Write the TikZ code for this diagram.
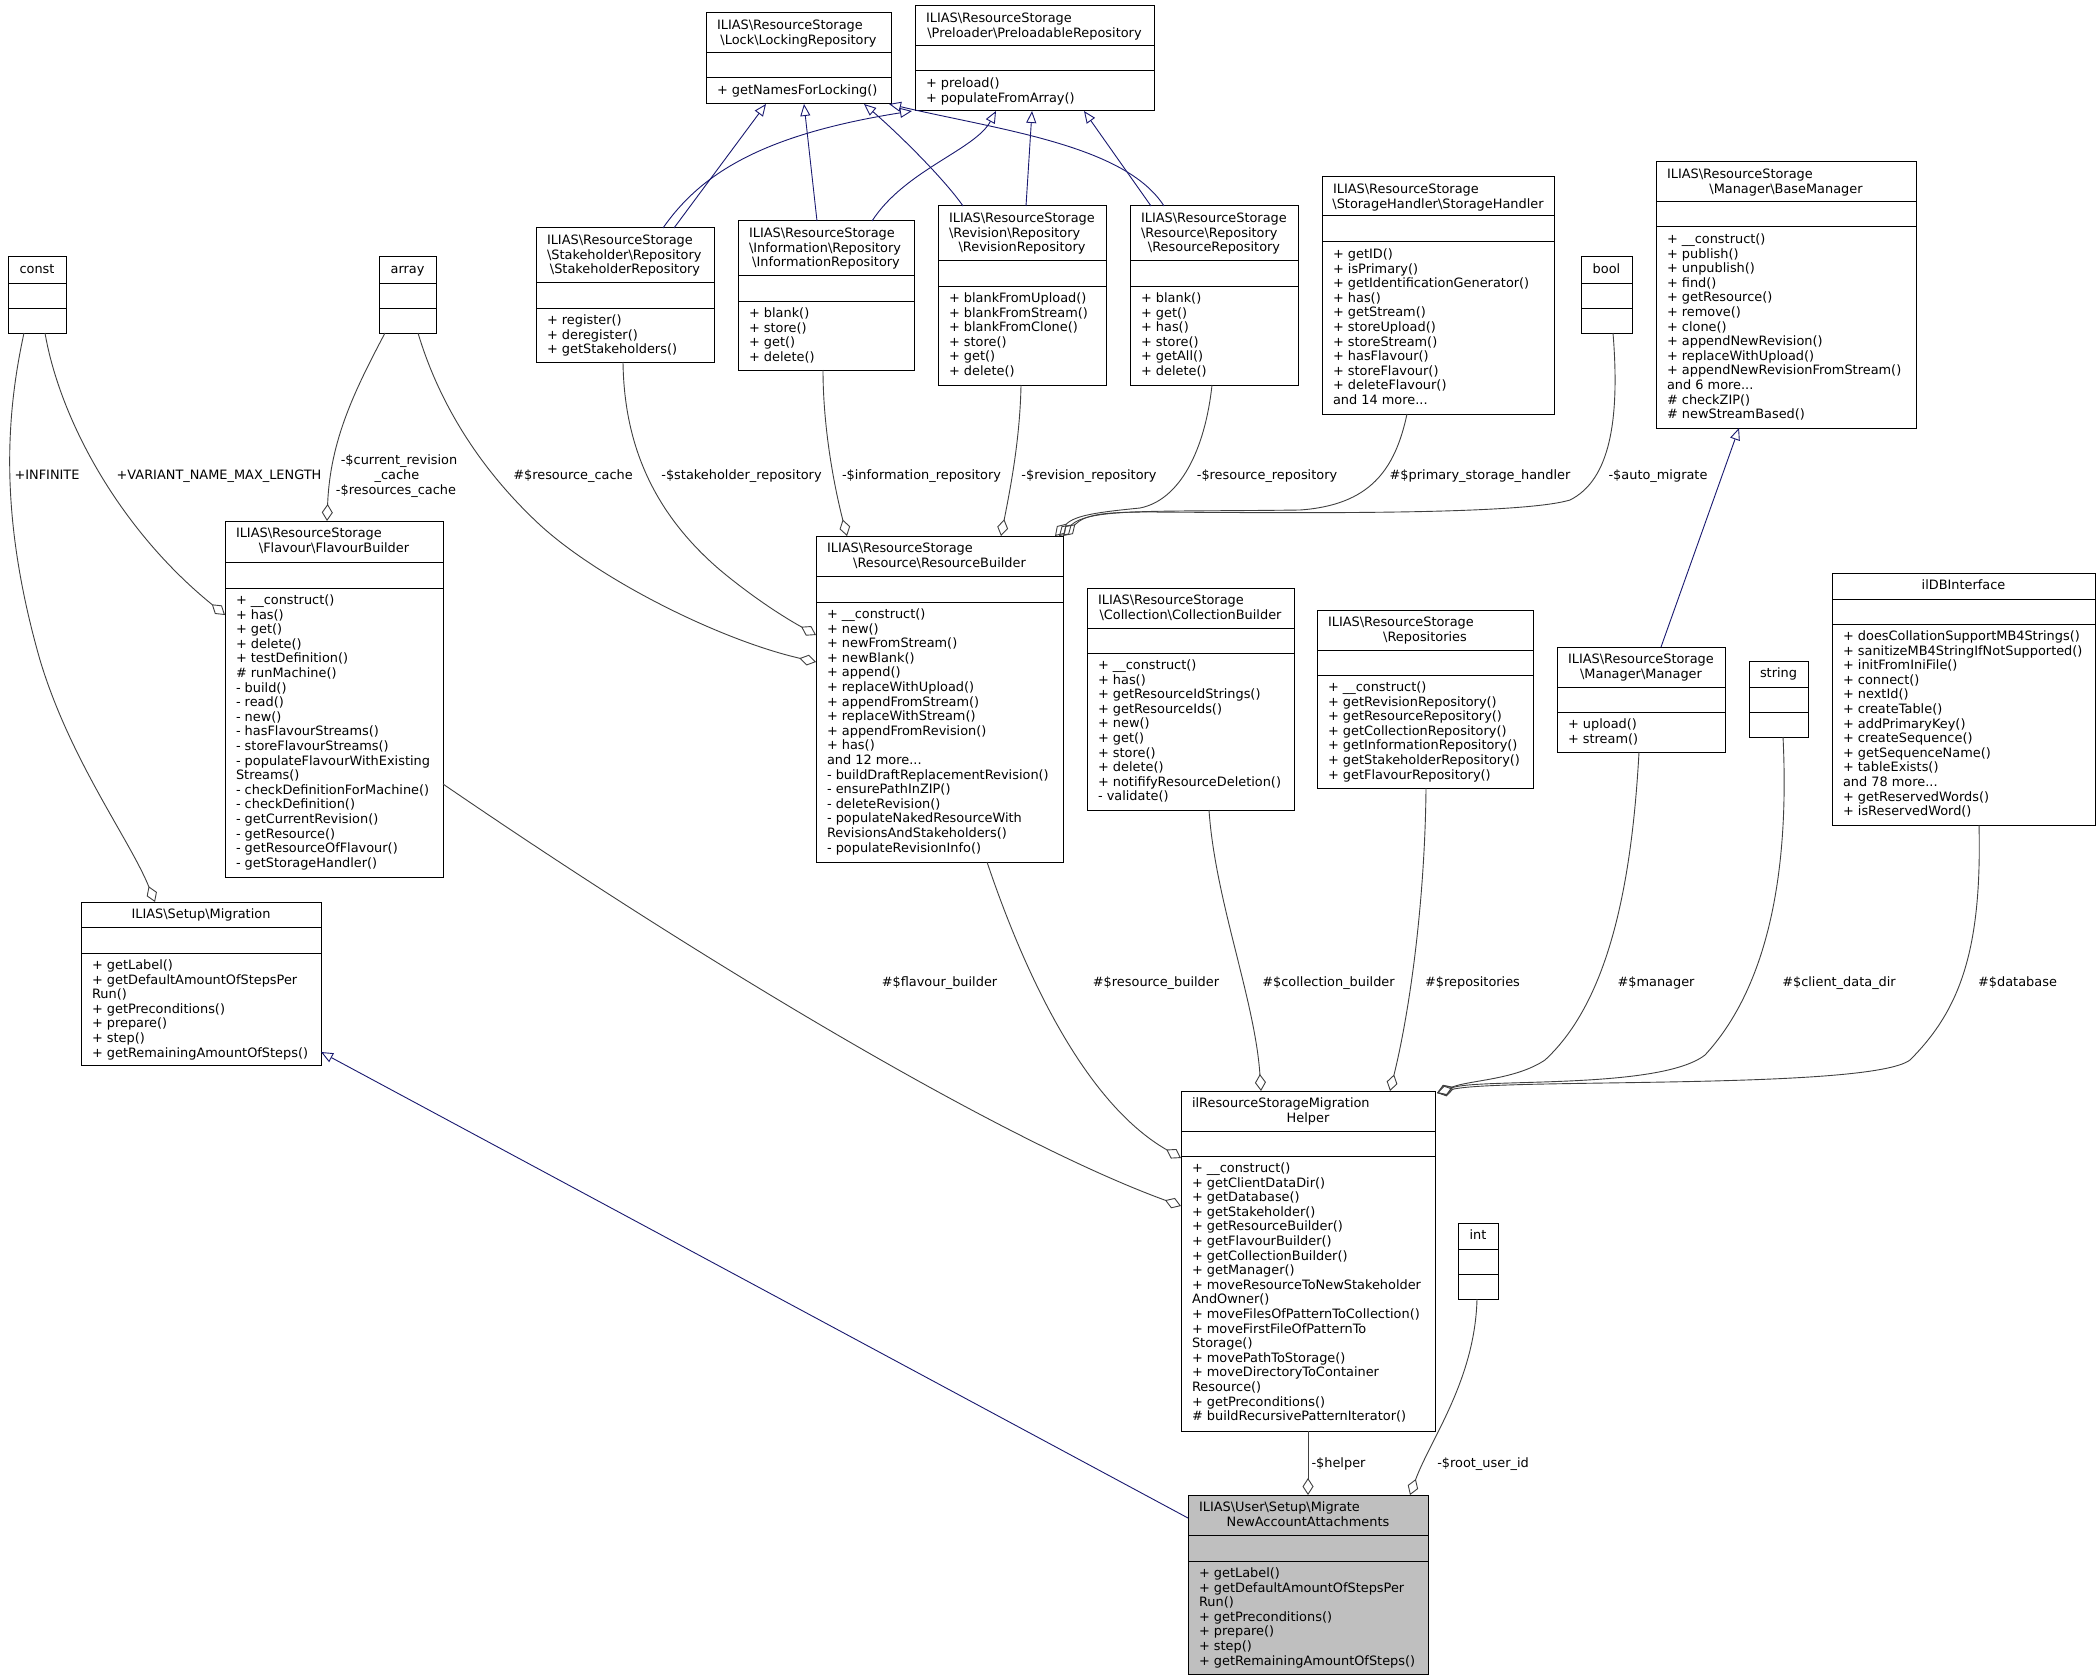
\documentclass[tikz,border=0pt]{standalone}
\usepackage{fontspec}
\newfontfamily\umlfam{DejaVu Sans}
\usetikzlibrary{arrows.meta,calc}
\definecolor{edgegray}{HTML}{404040}
\definecolor{inhblue}{HTML}{191970}
\definecolor{targetgray}{HTML}{BFBFBF}
\newcommand{\umlfont}{\umlfam\fontsize{12.9}{14.6}\selectfont}
\newcommand{\Bsl}{\textbackslash}
\tikzset{
  boxframe/.style={draw=black, line width=1pt, inner sep=0pt, outer sep=0pt, fill=white},
  divline/.style={draw=black, line width=1pt},
  txt/.style={inner sep=0pt, outer sep=0pt, font=\umlfont},
  elabel/.style={inner sep=0pt, outer sep=0pt, font=\umlfont, anchor=base},
  agg/.style={draw=edgegray, line width=0.9pt, -{Diamond[open, length=17pt, width=11pt]}},
  inh/.style={draw=inhblue, line width=0.9pt, -{Triangle[open, length=12pt, width=10pt]}},
}
% #1 options, #2 name, #3 x1, #4 y1, #5 x2, #6 y2, #7 divider 1, #8 divider 2
\newcommand{\umlbox}[8][]{%
  \node[boxframe,#1,anchor=north west,minimum width={(#5-#3)*1pt},minimum height={(#6-#4)*1pt}] (#2) at (#3,#4) {};
  \draw[divline] (#3,#7) -- (#5,#7);
  \draw[divline] (#3,#8) -- (#5,#8);
}
\newcommand{\hl}[4]{\node[txt,anchor=base west] (#1) at (#2,#3) {#4};}
\newcommand{\hc}[4]{\node[txt,anchor=base] (#1) at (#2,#3) {#4};}
\newcommand{\mlines}[4]{%
  \foreach \mtxt [count=\mi] in {#4} {\node[txt,anchor=base west] (#1-\mi) at (#2,{#3+(\mi-1)*14.6}) {\mtxt};}
}
\begin{document}
\begin{tikzpicture}[x={(1pt,0)}, y={(0,-1pt)}]
\path[fill=white, use as bounding box] (0,0) rectangle (2100,1680);

% ---------- boxes ----------
\umlbox{lock}{706}{13}{891}{104}{53}{78}
\hl{lock-h1}{717}{29.5}{ILIAS\Bsl ResourceStorage}
\hc{lock-h2}{798.5}{44.1}{\Bsl Lock\Bsl LockingRepository}
\mlines{lock-m}{717}{94.5}{+ getNamesForLocking()}

\umlbox{preload}{915}{6}{1154}{111}{46}{71}
\hl{preload-h1}{926}{22.5}{ILIAS\Bsl ResourceStorage}
\hc{preload-h2}{1034.5}{37.1}{\Bsl Preloader\Bsl PreloadableRepository}
\mlines{preload-m}{926}{87.5}{+ preload(),+ populateFromArray()}

\umlbox{stake}{536}{228}{714}{362}{282}{308}
\hl{stake-h1}{547}{244.5}{ILIAS\Bsl ResourceStorage}
\hl{stake-h2}{547}{259.1}{\Bsl Stakeholder\Bsl Repository}
\hc{stake-h3}{625}{273.7}{\Bsl StakeholderRepository}
\mlines{stake-m}{547}{324.5}{+ register(),+ deregister(),+ getStakeholders()}

\umlbox{info}{738}{221}{914}{370}{275}{301}
\hl{info-h1}{749}{237.5}{ILIAS\Bsl ResourceStorage}
\hl{info-h2}{749}{252.1}{\Bsl Information\Bsl Repository}
\hc{info-h3}{826}{266.7}{\Bsl InformationRepository}
\mlines{info-m}{749}{317.5}{+ blank(),+ store(),+ get(),+ delete()}

\umlbox{rev}{938}{206}{1106}{385}{261}{286}
\hl{rev-h1}{949}{222.5}{ILIAS\Bsl ResourceStorage}
\hl{rev-h2}{949}{237.1}{\Bsl Revision\Bsl Repository}
\hc{rev-h3}{1022}{251.7}{\Bsl RevisionRepository}
\mlines{rev-m}{949}{302.5}{+ blankFromUpload(),+ blankFromStream(),+ blankFromClone(),+ store(),+ get(),+ delete()}

\umlbox{res}{1130}{206}{1298}{385}{261}{286}
\hl{res-h1}{1141}{222.5}{ILIAS\Bsl ResourceStorage}
\hl{res-h2}{1141}{237.1}{\Bsl Resource\Bsl Repository}
\hc{res-h3}{1214}{251.7}{\Bsl ResourceRepository}
\mlines{res-m}{1141}{302.5}{+ blank(),+ get(),+ has(),+ store(),+ getAll(),+ delete()}

\umlbox{storage}{1322}{177}{1554}{414}{216}{242}
\hl{storage-h1}{1333}{193.5}{ILIAS\Bsl ResourceStorage}
\hc{storage-h2}{1438}{208.1}{\Bsl StorageHandler\Bsl StorageHandler}
\mlines{storage-m}{1333}{258.5}{+ getID(),+ isPrimary(),+ getIdentificationGenerator(),+ has(),+ getStream(),+ storeUpload(),+ storeStream(),+ hasFlavour(),+ storeFlavour(),+ deleteFlavour(),and 14 more.{}..}

\umlbox{bool}{1581}{257}{1632}{333}{283}{308}
\hc{bool-h}{1606.5}{273.5}{bool}

\umlbox{basemgr}{1656}{162}{1916}{428}{202}{227}
\hl{basemgr-h1}{1667}{178.5}{ILIAS\Bsl ResourceStorage}
\hc{basemgr-h2}{1786}{193.1}{\Bsl Manager\Bsl BaseManager}
\mlines{basemgr-m}{1667}{243.5}{+ \_\_construct(),+ publish(),+ unpublish(),+ find(),+ getResource(),+ remove(),+ clone(),+ appendNewRevision(),+ replaceWithUpload(),+ appendNewRevisionFromStream(),and 6 more.{}..,\# checkZIP(),\# newStreamBased()}

\umlbox{const}{8}{257}{66}{333}{283}{308}
\hc{const-h}{37}{273.5}{const}

\umlbox{array}{379}{257}{436}{333}{283}{308}
\hc{array-h}{407.5}{273.5}{array}

\umlbox{fb}{225}{521}{443}{877}{562}{588}
\hl{fb-h1}{236}{537.5}{ILIAS\Bsl ResourceStorage}
\hc{fb-h2}{334}{552.1}{\Bsl Flavour\Bsl FlavourBuilder}
\mlines{fb-m}{236}{604.5}{+ \_\_construct(),+ has(),+ get(),+ delete(),+ testDefinition(),\# runMachine(),- build(),- read(),- new(),- hasFlavourStreams(),- storeFlavourStreams(),- populateFlavourWithExisting,Streams(),- checkDefinitionForMachine(),- checkDefinition(),- getCurrentRevision(),- getResource(),- getResourceOfFlavour(),- getStorageHandler()}

\umlbox{migration}{81}{902}{321}{1065}{927}{953}
\hc{migration-h}{201}{918.5}{ILIAS\Bsl Setup\Bsl Migration}
\mlines{migration-m}{92}{969.5}{+ getLabel(),+ getDefaultAmountOfStepsPer,Run(),+ getPreconditions(),+ prepare(),+ step(),+ getRemainingAmountOfSteps()}

\umlbox{rb}{816}{536}{1063}{862}{576}{602}
\hl{rb-h1}{827}{552.5}{ILIAS\Bsl ResourceStorage}
\hc{rb-h2}{939.5}{567.1}{\Bsl Resource\Bsl ResourceBuilder}
\mlines{rb-m}{827}{618.5}{+ \_\_construct(),+ new(),+ newFromStream(),+ newBlank(),+ append(),+ replaceWithUpload(),+ appendFromStream(),+ replaceWithStream(),+ appendFromRevision(),+ has(),and 12 more.{}..,- buildDraftReplacementRevision(),- ensurePathInZIP(),- deleteRevision(),- populateNakedResourceWith,RevisionsAndStakeholders(),- populateRevisionInfo()}

\umlbox{cb}{1087}{588}{1294}{810}{628}{653}
\hl{cb-h1}{1098}{604.5}{ILIAS\Bsl ResourceStorage}
\hc{cb-h2}{1190.5}{619.1}{\Bsl Collection\Bsl CollectionBuilder}
\mlines{cb-m}{1098}{669.5}{+ \_\_construct(),+ has(),+ getResourceIdStrings(),+ getResourceIds(),+ new(),+ get(),+ store(),+ delete(),+ notififyResourceDeletion(),- validate()}

\umlbox{repos}{1317}{610}{1533}{788}{650}{675}
\hl{repos-h1}{1328}{626.5}{ILIAS\Bsl ResourceStorage}
\hc{repos-h2}{1425}{641.1}{\Bsl Repositories}
\mlines{repos-m}{1328}{691.5}{+ \_\_construct(),+ getRevisionRepository(),+ getResourceRepository(),+ getCollectionRepository(),+ getInformationRepository(),+ getStakeholderRepository(),+ getFlavourRepository()}

\umlbox{manager}{1557}{647}{1725}{752}{687}{712}
\hl{manager-h1}{1568}{663.5}{ILIAS\Bsl ResourceStorage}
\hc{manager-h2}{1641}{678.1}{\Bsl Manager\Bsl Manager}
\mlines{manager-m}{1568}{728.5}{+ upload(),+ stream()}

\umlbox{string}{1749}{661}{1808}{737}{687}{712}
\hc{string-h}{1778.5}{677.5}{string}

\umlbox{ildb}{1832}{573}{2095}{825}{599}{624}
\hc{ildb-h}{1963.5}{589.5}{ilDBInterface}
\mlines{ildb-m}{1843}{640.5}{+ doesCollationSupportMB4Strings(),+ sanitizeMB4StringIfNotSupported(),+ initFromIniFile(),+ connect(),+ nextId(),+ createTable(),+ addPrimaryKey(),+ createSequence(),+ getSequenceName(),+ tableExists(),and 78 more.{}..,+ getReservedWords(),+ isReservedWord()}

\umlbox{helper}{1181}{1091}{1435}{1431}{1131}{1156}
\hl{helper-h1}{1192}{1107.5}{ilResourceStorageMigration}
\hc{helper-h2}{1308}{1122.1}{Helper}
\mlines{helper-m}{1192}{1172.5}{+ \_\_construct(),+ getClientDataDir(),+ getDatabase(),+ getStakeholder(),+ getResourceBuilder(),+ getFlavourBuilder(),+ getCollectionBuilder(),+ getManager(),+ moveResourceToNewStakeholder,AndOwner(),+ moveFilesOfPatternToCollection(),+ moveFirstFileOfPatternTo,Storage(),+ movePathToStorage(),+ moveDirectoryToContainer,Resource(),+ getPreconditions(),\# buildRecursivePatternIterator()}

\umlbox{int}{1458}{1223}{1498}{1299}{1249}{1274}
\hc{int-h}{1478}{1239.5}{int}

\umlbox[fill=targetgray]{target}{1188}{1495}{1428}{1674}{1535}{1561}
\hl{target-h1}{1199}{1511.5}{ILIAS\Bsl User\Bsl Setup\Bsl Migrate}
\hc{target-h2}{1308}{1526.1}{NewAccountAttachments}
\mlines{target-m}{1199}{1577.5}{+ getLabel(),+ getDefaultAmountOfStepsPer,Run(),+ getPreconditions(),+ prepare(),+ step(),+ getRemainingAmountOfSteps()}

% ---------- inheritance ----------
\draw[inh] ($(stake.north west)+(138,0)$) -- ($(lock.south west)+(60,0)$);
\draw[inh] ($(stake.north west)+(127,0)$) .. controls (700,175) and (760,135) .. ($(preload.south west)+(-3,0)$);
\draw[inh] ($(info.north west)+(79,0)$) -- ($(lock.south west)+(98,0)$);
\draw[inh] ($(info.north west)+(134,0)$) .. controls (905,170) and (975,150) .. ($(preload.south west)+(81,0)$);
\draw[inh] ($(rev.north west)+(25,0)$) .. controls (945,180) and (900,135) .. ($(lock.south west)+(158,0)$);
\draw[inh] ($(rev.north west)+(88,0)$) -- ($(preload.south west)+(117,0)$);
\draw[inh] ($(res.north west)+(34,0)$) .. controls (1125,145) and (1000,130) .. ($(lock.south east)+(-2,0)$);
\draw[inh] ($(res.north west)+(21,0)$) -- ($(preload.south west)+(169,0)$);
\draw[inh] ($(manager.north west)+(104,0)$) -- ($(basemgr.south west)+(83,0)$);
\draw[inh] ($(target.north west)+(0,23)$) -- ($(migration.south east)+(0,-13)$);

% ---------- aggregation ----------
\draw[agg] ($(const.south west)+(16,0)$) .. controls (5,420) and (0,520) .. (40,660) .. controls (70,760) and (130,840) .. ($(migration.north west)+(74,0)$);
\draw[agg] ($(const.south west)+(37,0)$) .. controls (60,420) and (120,530) .. ($(fb.north west)+(0,94)$);
\draw[agg] ($(array.south west)+(6,0)$) .. controls (355,390) and (330,440) .. ($(fb.north west)+(102,0)$);
\draw[agg] ($(array.south west)+(39,0)$) .. controls (435,390) and (470,460) .. (540,525) .. controls (600,580) and (720,640) .. ($(rb.north west)+(0,126)$);
\draw[agg] ($(stake.south west)+(87,0)$) .. controls (624,440) and (650,510) .. (720,570) .. controls (750,595) and (780,615) .. ($(rb.north west)+(0,99)$);
\draw[agg] ($(info.south west)+(85,0)$) .. controls (823,430) and (835,490) .. ($(rb.north west)+(31,0)$);
\draw[agg] ($(rev.south west)+(83,0)$) .. controls (1020,440) and (1010,490) .. ($(rb.north west)+(185,0)$);
\draw[agg] ($(res.south west)+(82,0)$) .. controls (1205,450) and (1180,500) .. (1140,508) .. controls (1100,512) and (1075,515) .. ($(rb.north east)+(-8,0)$);
\draw[agg] ($(storage.south west)+(85,0)$) .. controls (1395,470) and (1370,505) .. (1300,510) .. controls (1150,512) and (1090,508) .. ($(rb.north east)+(-4,0)$);
\draw[agg] ($(bool.south west)+(32,0)$) .. controls (1620,420) and (1610,480) .. (1570,500) .. controls (1520,515) and (1300,513) .. (1150,512) .. controls (1100,512) and (1085,515) .. (rb.north east);
\draw[agg] ($(rb.south west)+(171,0)$) .. controls (1020,960) and (1080,1100) .. ($(helper.north west)+(0,67)$);
\draw[agg] ($(fb.north east)+(0,263)$) .. controls (700,960) and (1000,1140) .. ($(helper.north west)+(0,115)$);
\draw[agg] ($(cb.south west)+(122,0)$) .. controls (1215,900) and (1255,1000) .. ($(helper.north west)+(80,0)$);
\draw[agg] ($(repos.south west)+(109,0)$) .. controls (1425,900) and (1410,1010) .. ($(helper.north west)+(209,0)$);
\draw[agg] ($(manager.south west)+(82,0)$) .. controls (1632,880) and (1610,1000) .. (1545,1060) .. controls (1515,1080) and (1470,1080) .. ($(helper.north east)+(2,2)$);
\draw[agg] ($(string.south west)+(34,0)$) .. controls (1790,880) and (1765,990) .. (1705,1055) .. controls (1660,1090) and (1480,1078) .. ($(helper.north east)+(2,2)$);
\draw[agg] ($(ildb.south west)+(147,0)$) .. controls (1982,950) and (1960,1010) .. (1910,1060) .. controls (1870,1090) and (1500,1078) .. ($(helper.north east)+(2,2)$);
\draw[agg] ($(helper.south west)+(127,0)$) -- ($(target.north west)+(120,0)$);
\draw[agg] ($(int.south west)+(19,0)$) .. controls (1475,1380) and (1430,1440) .. ($(target.north west)+(222,0)$);

% ---------- edge labels ----------
\node[elabel] (l-inf) at (47,479.5) {+INFINITE};
\node[elabel] (l-var) at (219,479.5) {+VARIANT\_NAME\_MAX\_LENGTH};
\node[elabel] (l-cur1) at (399,464.8) {-\$current\_revision};
\node[elabel] (l-cur2) at (397,479.4) {\_cache};
\node[elabel] (l-cur3) at (396,494) {-\$resources\_cache};
\node[elabel] (l-rc) at (573,479.5) {\#\$resource\_cache};
\node[elabel] (l-sr) at (741.5,479.5) {-\$stakeholder\_repository};
\node[elabel] (l-ir) at (921.5,479.5) {-\$information\_repository};
\node[elabel] (l-rr) at (1089,479.5) {-\$revision\_repository};
\node[elabel] (l-resr) at (1267,479.5) {-\$resource\_repository};
\node[elabel] (l-psh) at (1480,479.5) {\#\$primary\_storage\_handler};
\node[elabel] (l-am) at (1658,479.5) {-\$auto\_migrate};
\node[elabel] (l-fb) at (939.5,986.5) {\#\$flavour\_builder};
\node[elabel] (l-rb) at (1156,986.5) {\#\$resource\_builder};
\node[elabel] (l-cb) at (1328.5,986.5) {\#\$collection\_builder};
\node[elabel] (l-rep) at (1472.5,986.5) {\#\$repositories};
\node[elabel] (l-man) at (1656,986.5) {\#\$manager};
\node[elabel] (l-cdd) at (1839,986.5) {\#\$client\_data\_dir};
\node[elabel] (l-db) at (2017.5,986.5) {\#\$database};
\node[elabel] (l-help) at (1338.5,1467.5) {-\$helper};
\node[elabel] (l-root) at (1483,1467.5) {-\$root\_user\_id};
\end{tikzpicture}
\end{document}
